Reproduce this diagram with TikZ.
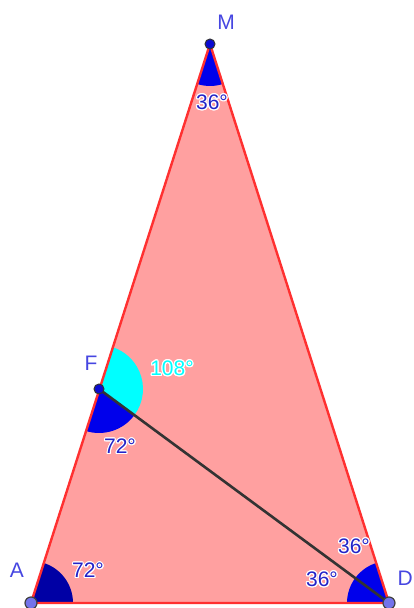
\documentclass[tikz,border=0pt]{standalone}
\usepackage{fontspec}
\setmainfont{Liberation Sans}
\usepackage[copies]{contour}
\usepackage{tikz}
\usetikzlibrary{angles}
\definecolor{polyfill}{RGB}{255,160,160}
\definecolor{polyedge}{RGB}{255,48,48}
\definecolor{ptlabel}{RGB}{70,70,225}
\definecolor{angtext}{RGB}{35,35,200}
\definecolor{angblue}{RGB}{0,0,235}
\definecolor{angnavy}{RGB}{0,0,165}
\definecolor{angcyan}{RGB}{0,255,255}
\definecolor{ptdark}{RGB}{10,10,210}
\definecolor{ptlight}{RGB}{115,115,235}
\contourlength{1.1pt}
\tikzset{
  ptlbl/.style={text=ptlabel,font=\fontsize{21}{21}\selectfont,inner sep=0pt},
  anglbl/.style={text=angtext,font=\fontsize{21}{21}\selectfont,inner sep=0pt},
  sector/.style={fill=angblue,angle radius=42pt}
}

\begin{document}
\begin{tikzpicture}[x=1pt,y=1pt]
\useasboundingbox (0,0) rectangle (413,608);
\coordinate (M) at (210,564);
\coordinate (A) at (31,5);
\coordinate (D) at (389,5);
\coordinate (F) at (99,219);
\fill[polyfill] (A) -- (D) -- (M) -- cycle;
\pic[sector,fill=angnavy] {angle=D--A--M};
\pic[sector] {angle=A--M--D};
\pic[sector] {angle=F--D--A};
\pic[sector] {angle=M--D--F};
\pic[sector,fill=angcyan,angle radius=44pt] {angle=D--F--M};
\pic[sector,angle radius=44pt] {angle=A--F--D};
\draw[polyedge,line width=2.4pt,line join=round] (A) -- (D) -- (M) -- cycle;
\draw[black!80,line width=2.6pt] (F) -- (D);
\filldraw[fill=ptdark,draw=black!80,line width=1pt] (M) circle (5);
\filldraw[fill=ptdark,draw=black!80,line width=1pt] (F) circle (5);
\filldraw[fill=ptlight,draw=black!75,line width=1.2pt] (A) circle (6);
\filldraw[fill=ptlight,draw=black!75,line width=1.2pt] (D) circle (6);
\node[ptlbl] (lM) at (226,586) {M};
\node[ptlbl] (lF) at (91,245) {F};
\node[ptlbl] (lA) at (17,38) {A};
\node[ptlbl,anchor=east] (lD) at (413,30) {D};
\node[anglbl] (aM) at (212,505) {\contour{white}{36°}};
\node[anglbl,text=angcyan] (aF1) at (172,239) {\contour{white}{108°}};
\node[anglbl] (aF2) at (120,161) {\contour{white}{72°}};
\node[anglbl] (aA) at (88,37) {\contour{white}{72°}};
\node[anglbl] (aD1) at (354,61) {\contour{white}{36°}};
\node[anglbl] (aD2) at (322,28) {\contour{white}{36°}};
\end{tikzpicture}
\end{document}
